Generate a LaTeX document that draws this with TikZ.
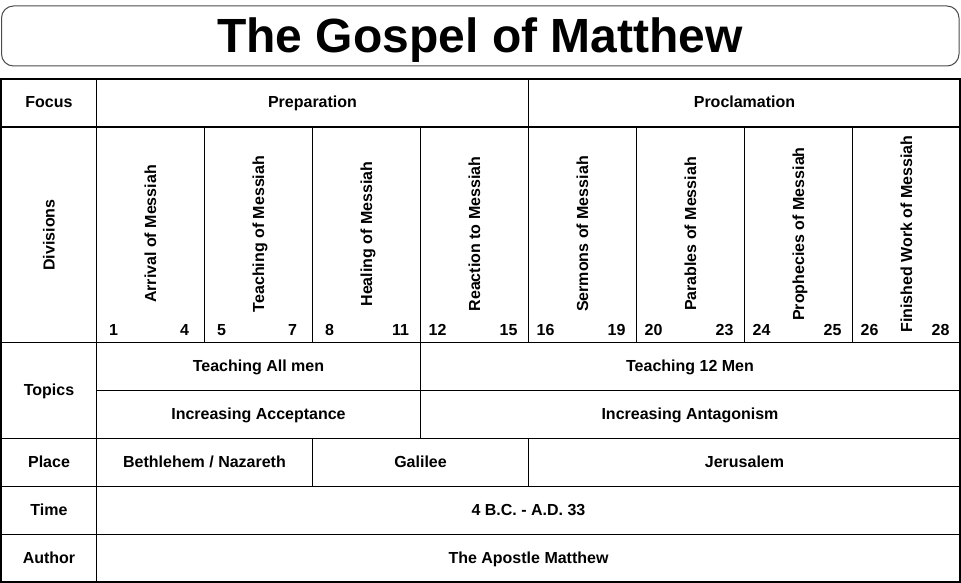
\documentclass[tikz,border=0pt]{standalone}
\usepackage{fontspec}
\setmainfont{Liberation Sans}
\begin{document}
\begin{tikzpicture}[x=1pt,y=-1pt,
  txt/.style={font=\bfseries\fontsize{16}{18}\selectfont, inner sep=0pt, anchor=base},
  vtxt/.style={txt, rotate=90},
  gridline/.style={line width=1.3pt, draw=black},
  titlebox/.style={rounded corners=12pt, draw=black!70, line width=1pt}]
\useasboundingbox (0,0) rectangle (961,583);
% title
\draw[titlebox] (1.5,6) rectangle (959,66);
\node[font=\bfseries\fontsize{48}{56}\selectfont, inner sep=0pt, anchor=base] (title) at (480,53) {The Gospel of Matthew};
% grid
\draw[gridline] (1,79) rectangle (960,582);
\foreach \yy in {127,342.5,438.5,486.5,534.5}
  \draw[gridline] (1,\yy) -- (960,\yy);
\draw[gridline] (96.5,390.5) -- (960,390.5);
\draw[gridline] (96.5,79) -- (96.5,582);
\draw[gridline] (528.5,79) -- (528.5,127);
\foreach \xx in {204.5,312.5,420.5,528.5,636.5,744.5,852.5}
  \draw[gridline] (\xx,127) -- (\xx,342.5);
\draw[gridline] (420.5,342.5) -- (420.5,438.5);
\draw[gridline] (312.5,438.5) -- (312.5,486.5);
\draw[gridline] (528.5,438.5) -- (528.5,486.5);
% row labels
\node[txt] (focus) at (49,108) {Focus};
\node[vtxt] (divisions) at (54.5,235) {Divisions};
\node[txt] (topics) at (49,395.5) {Topics};
\node[txt] (place) at (49,467.5) {Place};
\node[txt] (time) at (49,515.5) {Time};
\node[txt] (author) at (49,563.5) {Author};
% focus
\node[txt] (prep) at (312.5,108) {Preparation};
\node[txt] (procl) at (744.5,108) {Proclamation};
% divisions
\foreach \k/\name/\a/\b in {0/Arrival of Messiah/1/4, 1/Teaching of Messiah/5/7,
  2/Healing of Messiah/8/11, 3/Reaction to Messiah/12/15, 4/Sermons of Messiah/16/19,
  5/Parables of Messiah/20/23, 6/Prophecies of Messiah/24/25, 7/Finished Work of Messiah/26/28} {
  \node[vtxt] (div\k) at ({96.5+108*\k+54+5.5},234) {\name};
  \node[txt] (first\k) at ({96.5+108*\k+17},335) {\a};
  \node[txt] (last\k) at ({96.5+108*(\k+1)-20},335) {\b};
}
% topics
\node[txt] (allmen) at (258.5,371.5) {Teaching All men};
\node[txt] (twelve) at (690,371.5) {Teaching 12 Men};
\node[txt] (accept) at (258.5,419.5) {Increasing Acceptance};
\node[txt] (antag) at (690,419.5) {Increasing Antagonism};
% place
\node[txt] (beth) at (204.5,467.5) {Bethlehem / Nazareth};
\node[txt] (galilee) at (420.5,467.5) {Galilee};
\node[txt] (jerus) at (744.5,467.5) {Jerusalem};
% time, author
\node[txt] (dates) at (528.5,515.5) {4 B.C. - A.D. 33};
\node[txt] (apostle) at (528.5,563.5) {The Apostle Matthew};
\end{tikzpicture}
\end{document}
